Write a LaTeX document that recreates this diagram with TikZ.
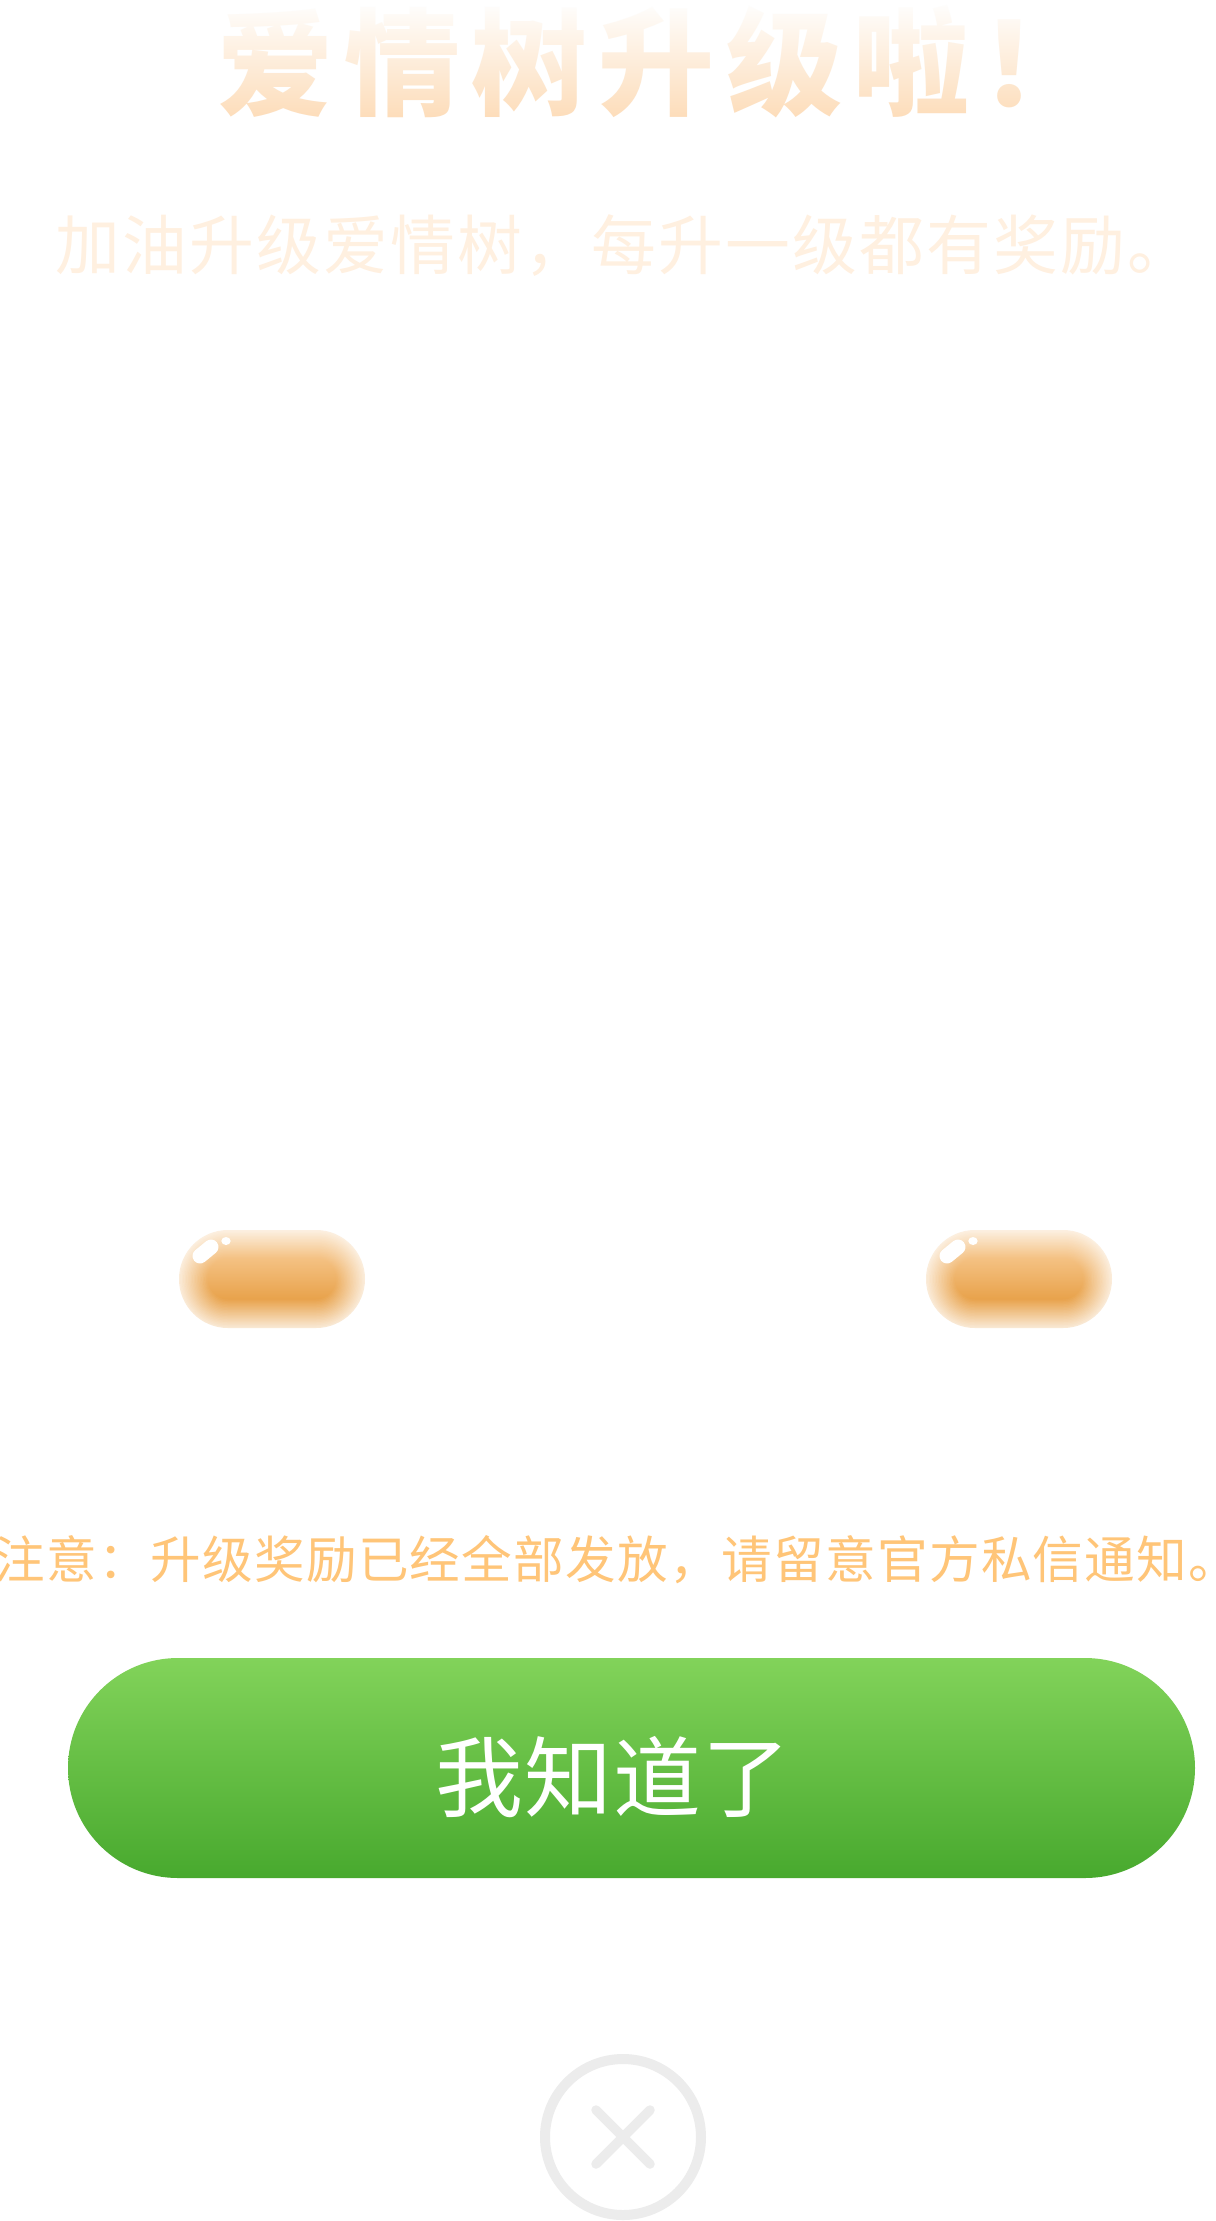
\documentclass[tikz,border=0pt]{standalone}
\usepackage{fontspec}
\usetikzlibrary{fadings}
\newfontfamily\cjk{Noto Sans CJK SC}
\newfontfamily\cjkheavy{Noto Sans CJK SC Black}
\definecolor{titleorange}{HTML}{FDDDBA}
\definecolor{subtitleorange}{HTML}{FFF0E0}
\definecolor{noteorange}{HTML}{FFC578}
\definecolor{pilltop}{HTML}{F4C182}
\definecolor{pillbottom}{HTML}{E8A24B}
\definecolor{knowtop}{HTML}{82D35A}
\definecolor{knowbottom}{HTML}{48A92E}
\definecolor{closegray}{HTML}{ECECEC}
\tikzset{
    titletext/.style={text=titleorange, inner sep=0pt, font=\cjkheavy\addfontfeature{LetterSpace=9.7}\fontsize{66}{67}\selectfont},
    subtitletext/.style={text=subtitleorange, inner sep=0pt, font=\cjk\addfontfeature{LetterSpace=3.4}\fontsize{36.9}{37}\selectfont},
    notetext/.style={text=noteorange, inner sep=0pt, font=\cjk\addfontfeature{LetterSpace=2.6}\fontsize{28.8}{29}\selectfont},
    knowtext/.style={text=white, inner sep=0pt, font=\cjk\addfontfeature{LetterSpace=1}\fontsize{50}{51}\selectfont},
    closeline/.style={closegray, line width=0.19cm, line cap=round}
}
\newcommand{\lovepill}[1]{
    \begin{scope}[shift={(#1, 0)}]
        \coordinate (pillnw) at (179, 1230);
        \coordinate (pillse) at (365, 1328);
        \foreach \i in {0, ..., 19} {
            \pgfmathsetmacro{\pillmix}{min(100, 25 + \i * 4)}
            \pgfmathsetmacro{\pillround}{(49 - \i * 1.5) * 0.02}
            \shade[top color=pilltop!\pillmix!white, bottom color=pillbottom!\pillmix!white, rounded corners=\pillround cm]
                ([shift={(\i * 1.5, \i * 1.5)}]pillnw) rectangle ([shift={(-\i * 1.5, -\i * 1.5)}]pillse);
        }
        \draw[white, line width=0.3cm, line cap=round] (200, 1256) -- (211, 1247);
        \fill[white] (226, 1241) ellipse (4.7 and 4);
    \end{scope}
}

\begin{document}
\begin{tikzpicture}[x=0.02cm, y=-0.02cm]

    \useasboundingbox (0, 0) rectangle (1215, 2221);
    \fill[white] (0, 0) rectangle (1215, 2221);

    \node[titletext] (lovetitle) at (657, 62) {爱情树升级啦！};
    \fill[white, path fading=south] (0, 0) rectangle (1215, 118);

    \node[subtitletext] (lovesub) at (624, 246) {加油升级爱情树，每升一级都有奖励。};

    \lovepill{0}
    \lovepill{747}

    \node[notetext] (lovenote) at (617, 1560) {注意：升级奖励已经全部发放，请留意官方私信通知。};

    \shade[top color=knowtop, bottom color=knowbottom, rounded corners=2.2cm] (68, 1658) rectangle (1195, 1878);
    \node[knowtext] (knowbutton) at (613, 1777) {我知道了};

    \coordinate (closemid) at (623, 2137);
    \draw[closegray, line width=0.2cm] (closemid) circle (78);
    \draw[closeline] ([shift={(-27, -27)}]closemid) -- ([shift={(27, 27)}]closemid);
    \draw[closeline] ([shift={(27, -27)}]closemid) -- ([shift={(-27, 27)}]closemid);

\end{tikzpicture}
\end{document}
